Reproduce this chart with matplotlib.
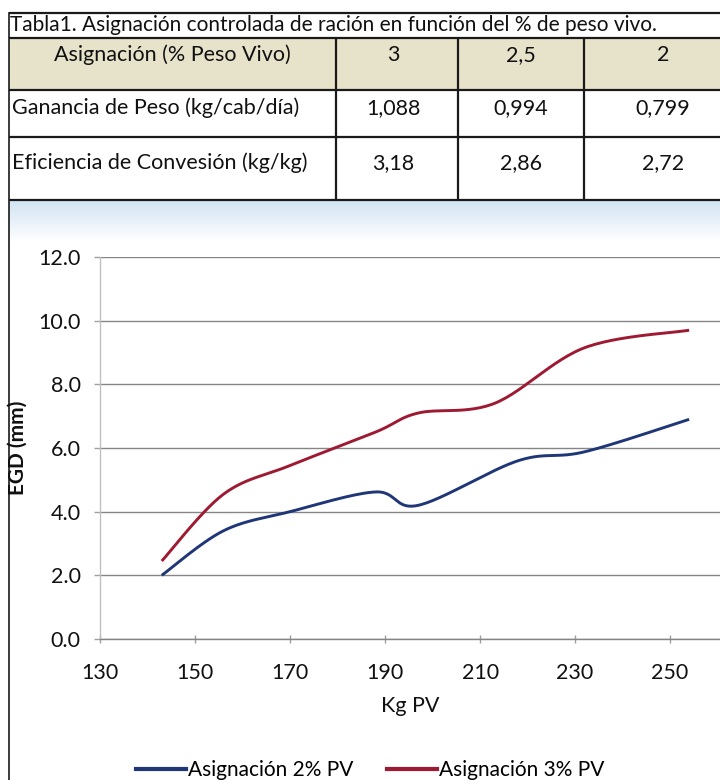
import numpy as np
import matplotlib
matplotlib.use("Agg")
import matplotlib.pyplot as plt
from matplotlib.patches import Rectangle
from matplotlib.lines import Line2D

plt.rcParams['font.family'] = ['Lato', 'DejaVu Sans']

# ---------------- data ----------------
table_title = "Tabla1. Asignación controlada de ración en función del % de peso vivo."
table_header = ["Asignación (% Peso Vivo)", "3", "2,5", "2"]
row_ganancia = ["Ganancia de Peso (kg/cab/día)", "1,088", "0,994", "0,799"]
row_eficiencia = ["Eficiencia de Convesión (kg/kg)", "3,18", "2,86", "2,72"]

x_2pv = [143, 156, 170, 188, 197, 218, 232, 254]
y_2pv = [2.0, 3.4, 4.0, 4.62, 4.2, 5.6, 5.88, 6.9]
x_3pv = [143, 156, 170, 188, 197, 213, 232, 254]
y_3pv = [2.45, 4.55, 5.45, 6.5, 7.1, 7.4, 9.15, 9.7]

series_labels = ["Asignación 2% PV", "Asignación 3% PV"]
x_ticks = [130, 150, 170, 190, 210, 230, 250]
y_ticks = [0, 2, 4, 6, 8, 10, 12]
x_label = "Kg PV"
y_label = "EGD (mm)"

BLUE = "#1f3677"
RED = "#9e1a32"


def smooth(xs, ys, n=30):
    """Excel-like smoothed line (Catmull-Rom Bezier) through the points."""
    P = np.column_stack([xs, ys]).astype(float)
    P_ext = np.vstack([P[0], P, P[-1]])
    out = []
    t = np.linspace(0, 1, n)
    for i in range(len(P) - 1):
        p0, p1, p2, p3 = P_ext[i], P_ext[i + 1], P_ext[i + 2], P_ext[i + 3]
        c1 = p1 + (p2 - p0) / 6.0
        c2 = p2 - (p3 - p1) / 6.0
        seg = ((1 - t) ** 3)[:, None] * p1 + (3 * (1 - t) ** 2 * t)[:, None] * c1 \
            + (3 * (1 - t) * t ** 2)[:, None] * c2 + (t ** 3)[:, None] * p2
        out.append(seg if i == 0 else seg[1:])
    out = np.vstack(out)
    return out[:, 0], out[:, 1]


W, H = 720, 780
fig = plt.figure(figsize=(W / 100, H / 100), dpi=100)
fig.patch.set_facecolor("white")

# background / table axes in pixel coordinates
bg = fig.add_axes([0, 0, 1, 1])
bg.set_xlim(0, W)
bg.set_ylim(H, 0)
bg.axis("off")

# light blue band under the table
grad = np.linspace(0, 1, 50)[:, None]
band = np.ones((50, 2, 3))
top_col = np.array([0.82, 0.89, 0.95])
for k in range(3):
    band[:, :, k] = top_col[k] + (1 - top_col[k]) * grad
bg.imshow(band, extent=(9, W, 242, 200), aspect="auto", zorder=0)

# table
col_edges = [9, 336, 458, 584, 740]
row_edges = [38, 90, 137, 200]
bg.add_patch(Rectangle((9, 38), W - 9, 52, facecolor="#e7e3cb", edgecolor="none", zorder=1))
line_kw = dict(color="#1a1a1a", lw=1.6, zorder=3, solid_capstyle="butt")
bg.plot([9, W], [13, 13], **line_kw)
bg.plot([9, 9], [13, H], color="#1a1a1a", lw=1.2, zorder=3)
for yy in row_edges:
    bg.plot([9, W], [yy, yy], **line_kw)
for xx in col_edges[1:4]:
    bg.plot([xx, xx], [38, 200], **line_kw)

bg.text(10, 25, table_title, fontsize=15, va="center", ha="left", color="#111111", zorder=4)

row_y = [55, 108, 163]
for r, row in enumerate([table_header, row_ganancia, row_eficiencia]):
    for c, txt in enumerate(row):
        if c == 0 and r > 0:
            bg.text(12, row_y[r], txt, fontsize=15.5, va="center", ha="left", color="#111111", zorder=4)
        else:
            cx = (col_edges[c] + col_edges[c + 1]) / 2
            if c == 0:
                cx = 172
            if c == 1:
                cx = 393
            if c == 3:
                cx = 663
            bg.text(cx, row_y[r], txt, fontsize=15.5, va="center", ha="center", color="#111111", zorder=4)

# ---------------- chart ----------------
left, right = 100, 720
top, bottom = 257, 639
ax = fig.add_axes([left / W, 1 - bottom / H, (right - left) / W, (bottom - top) / H])
ax.patch.set_alpha(0)

xs, ys = smooth(x_2pv, y_2pv)
ax.plot(xs, ys, color=BLUE, lw=2.1, solid_capstyle="butt", zorder=3, label=series_labels[0])
xs, ys = smooth(x_3pv, y_3pv)
ax.plot(xs, ys, color=RED, lw=2.1, solid_capstyle="butt", zorder=3, label=series_labels[1])

ax.set_xlim(130, 260.5)
ax.set_ylim(0, 12)
ax.set_xticks(x_ticks)
ax.set_yticks(y_ticks)
ax.set_yticklabels([f"{v:.1f}" for v in y_ticks])
ax.grid(axis="y", color="#858585", lw=1.0, zorder=1)
for s in ["top", "right"]:
    ax.spines[s].set_visible(False)
ax.spines["left"].set_color("#c0c0c0")
ax.spines["left"].set_linewidth(1.0)
ax.spines["bottom"].set_color("#858585")
ax.spines["bottom"].set_linewidth(1.0)
ax.tick_params(axis="y", length=4, width=1, color="#a0a0a0", labelsize=15.5, pad=10, labelcolor="#111111")
ax.tick_params(axis="x", direction="inout", length=6, width=1, color="#a0a0a0", labelsize=15.5, pad=14,
               labelcolor="#111111")
ax.set_xlabel(x_label, fontsize=15.5, color="#111111", labelpad=10)
ax.set_ylabel(y_label, fontsize=15, fontweight="bold", color="#111111")
ax.yaxis.label.set_va("center")
ax.yaxis.set_label_coords(-(left - 18) / (right - left), 0.5)

handles = [Line2D([], [], color=BLUE, lw=3), Line2D([], [], color=RED, lw=3)]
fig.legend(handles, series_labels, loc="center", bbox_to_anchor=(370 / W, 1 - 770 / H),
           ncol=2, frameon=False, fontsize=15, handlelength=2.4, handletextpad=0.1,
           columnspacing=1.6)

fig.savefig("out.png", dpi=100, facecolor="white")
